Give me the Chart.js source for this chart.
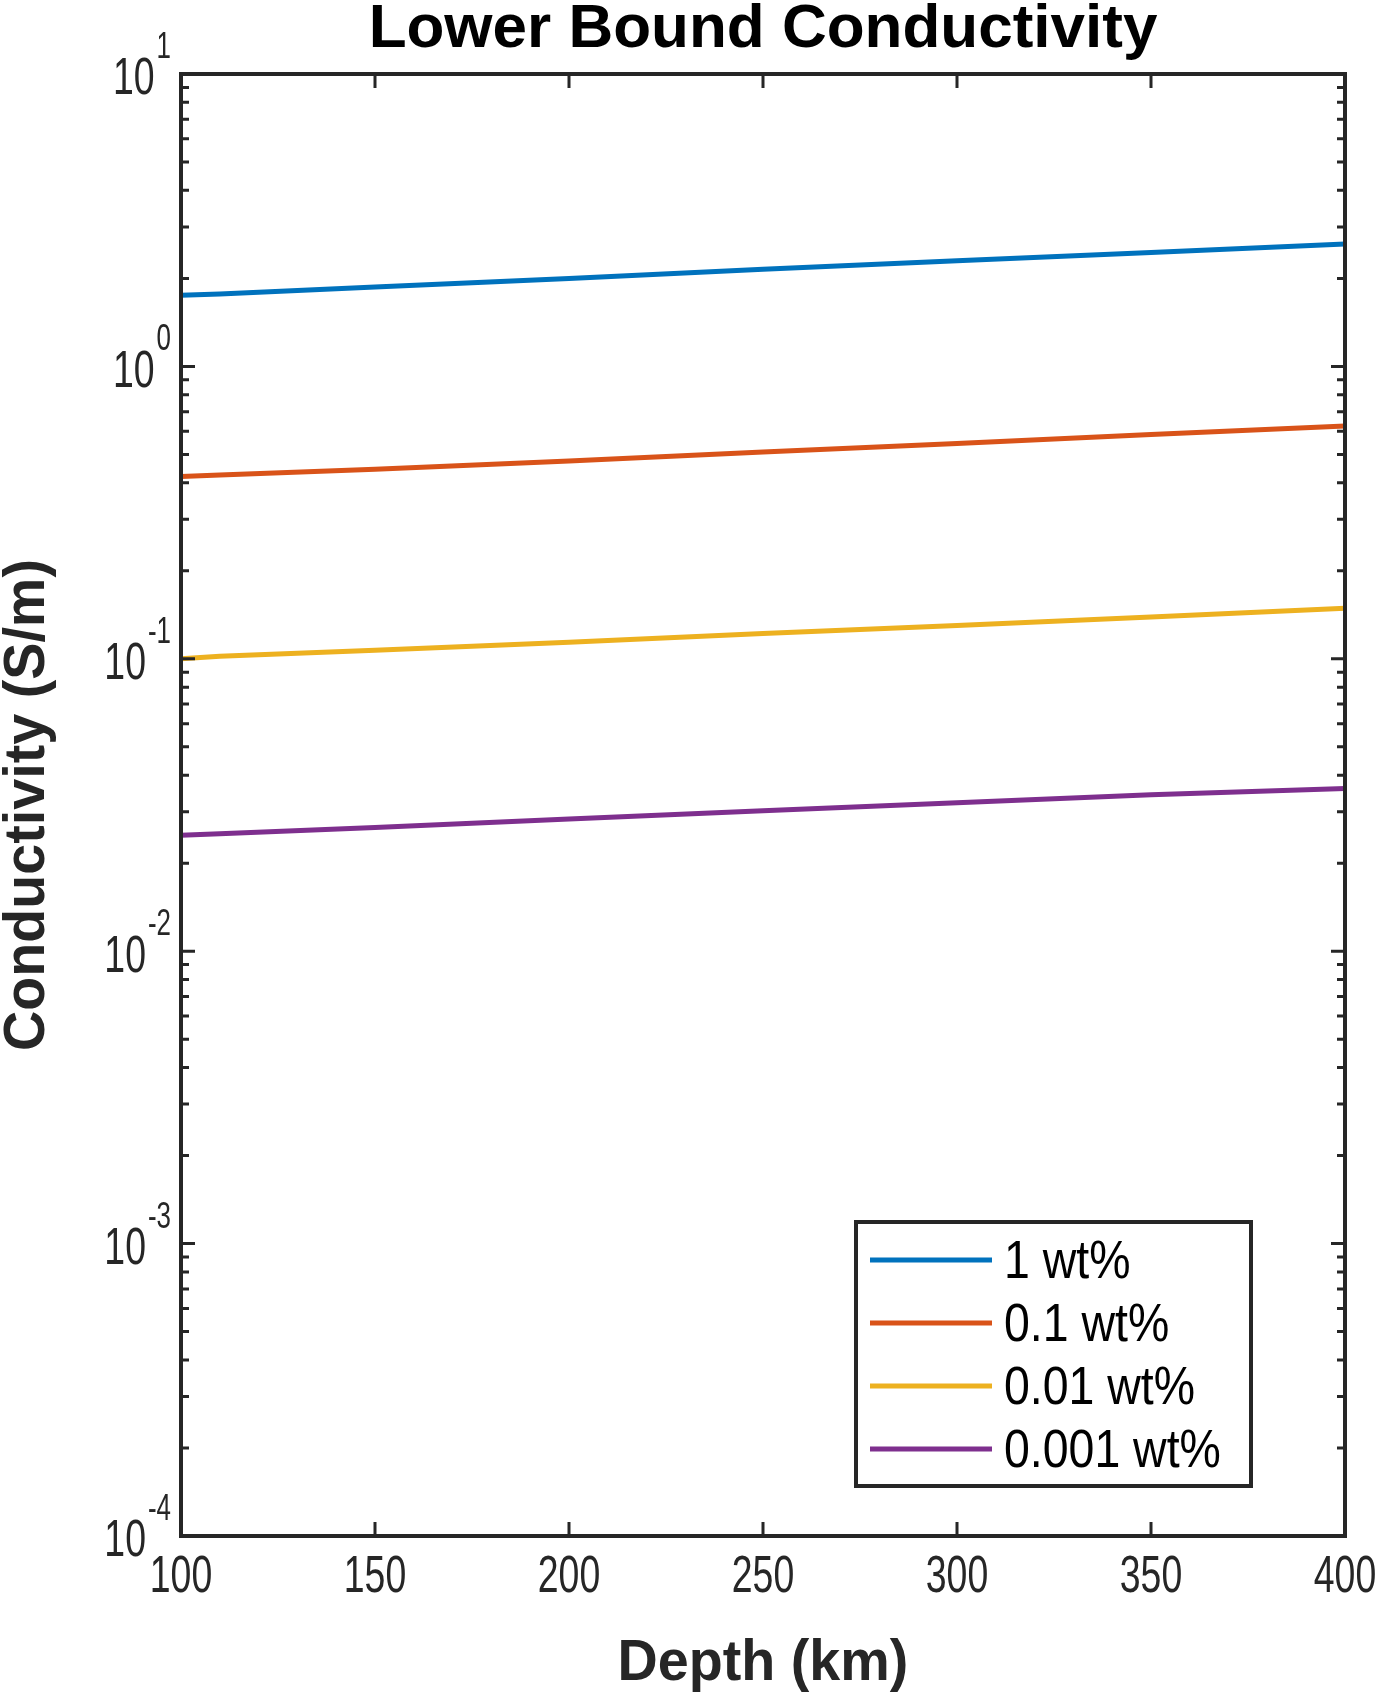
<!DOCTYPE html>
<html>
<head>
<meta charset="utf-8">
<script src="https://cdn.jsdelivr.net/npm/chart.js@4/dist/chart.umd.min.js"></script>
<style>
  body { margin: 0; background: #fff; }
  #wrap { width: 1386px; height: 1696px; }
</style>
</head>
<body>
<div id="wrap"><canvas id="cond"></canvas></div>
<script>
const depths = [100, 110, 150, 200, 250, 300, 350, 400];
const wt1 = [1.75, 1.77, 1.87, 2.0, 2.15, 2.3, 2.45, 2.62];
const wt01 = [0.42, 0.425, 0.445, 0.475, 0.51, 0.545, 0.585, 0.625];
const wt001 = [0.10, 0.102, 0.107, 0.114, 0.122, 0.13, 0.139, 0.149];
const wt0001 = [0.0249, 0.0252, 0.0265, 0.0283, 0.0302, 0.0322, 0.0343, 0.036];
const seriesNames = ['1 wt%', '0.1 wt%', '0.01 wt%', '0.001 wt%'];
const seriesColors = ['#0072BD', '#D95319', '#EDB120', '#7E2F8E'];
const xTicks = [100, 150, 200, 250, 300, 350, 400];
const yExponents = [-4, -3, -2, -1, 0, 1];

const FONT = '"Liberation Sans", Arial, sans-serif';
const INK = '#262626';

function series(vals) {
    return depths.map((d, i) => ({ x: d, y: vals[i] }));
}

// draw text squeezed horizontally by sx
function sText(ctx, text, x, y, sx) {
    ctx.save();
    ctx.translate(x, y);
    ctx.scale(sx, 1);
    ctx.fillText(text, 0, 0);
    ctx.restore();
}

const decor = {
    id: 'decor',
    afterDraw(chart) {
        const ctx = chart.ctx;
        const { left, right, top, bottom } = chart.chartArea;
        const xs = chart.scales.x, ys = chart.scales.y;
        ctx.save();
        ctx.strokeStyle = INK;
        ctx.fillStyle = INK;
        ctx.lineWidth = 4;
        ctx.strokeRect(left, top, right - left, bottom - top);

        // x ticks
        ctx.lineWidth = 3;
        ctx.font = '52px ' + FONT;
        ctx.textAlign = 'center';
        ctx.textBaseline = 'top';
        xTicks.forEach(v => {
            const px = xs.getPixelForValue(v);
            ctx.beginPath();
            ctx.moveTo(px, bottom); ctx.lineTo(px, bottom - 14);
            ctx.moveTo(px, top); ctx.lineTo(px, top + 14);
            ctx.stroke();
            sText(ctx, String(v), px, bottom + 16, 0.72);
        });

        // y ticks (major + minor)
        yExponents.forEach(e => {
            const py = ys.getPixelForValue(Math.pow(10, e));
            ctx.beginPath();
            ctx.moveTo(left, py); ctx.lineTo(left + 14, py);
            ctx.moveTo(right, py); ctx.lineTo(right - 14, py);
            ctx.stroke();
            if (e < 1) {
                for (let m = 2; m <= 9; m++) {
                    const my = ys.getPixelForValue(m * Math.pow(10, e));
                    ctx.beginPath();
                    ctx.moveTo(left, my); ctx.lineTo(left + 8, my);
                    ctx.moveTo(right, my); ctx.lineTo(right - 8, my);
                    ctx.stroke();
                }
            }
            ctx.textAlign = 'right';
            ctx.textBaseline = 'middle';
            ctx.font = '36px ' + FONT;
            const ew = ctx.measureText(String(e)).width * 0.72;
            sText(ctx, String(e), left - 10, py - 26, 0.72);
            ctx.font = '52px ' + FONT;
            sText(ctx, '10', left - 12 - ew, py + 6, 0.72);
        });

        // titles
        ctx.fillStyle = '#000';
        ctx.font = 'bold 62px ' + FONT;
        ctx.textAlign = 'center';
        ctx.textBaseline = 'middle';
        ctx.fillText('Lower Bound Conductivity', (left + right) / 2, 30);
        ctx.fillStyle = INK;
        ctx.font = 'bold 58px ' + FONT;
        sText(ctx, 'Depth (km)', (left + right) / 2, 1664, 0.96);
        ctx.save();
        ctx.translate(28, (top + bottom) / 2);
        ctx.rotate(-Math.PI / 2);
        sText(ctx, 'Conductivity (S/m)', 0, 0, 0.96);
        ctx.restore();

        // legend
        const lx = 856, ly = 1222, lw = 395, lh = 264;
        ctx.fillStyle = '#fff';
        ctx.fillRect(lx, ly, lw, lh);
        ctx.lineWidth = 4;
        ctx.strokeStyle = INK;
        ctx.strokeRect(lx, ly, lw, lh);
        ctx.font = '54px ' + FONT;
        ctx.textAlign = 'left';
        seriesNames.forEach((n, i) => {
            const ry = ly + 38 + i * 63;
            ctx.strokeStyle = seriesColors[i];
            ctx.lineWidth = 5;
            ctx.beginPath();
            ctx.moveTo(lx + 14, ry); ctx.lineTo(lx + 136, ry);
            ctx.stroke();
            ctx.fillStyle = '#000';
            sText(ctx, n, lx + 148, ry + 3, 0.86);
        });
        ctx.restore();
    }
};

new Chart(document.getElementById('cond'), {
    type: 'line',
    data: {
        datasets: [wt1, wt01, wt001, wt0001].map((v, i) => ({
            label: seriesNames[i],
            data: series(v),
            borderColor: seriesColors[i],
            borderWidth: 5,
            pointRadius: 0,
            tension: 0
        }))
    },
    options: {
        responsive: true,
        maintainAspectRatio: false,
        animation: false,
        layout: { padding: { left: 181, right: 41, top: 74, bottom: 160 } },
        plugins: { legend: { display: false }, tooltip: { enabled: false } },
        scales: {
            x: {
                type: 'linear', min: 100, max: 400,
                grid: { display: false }, border: { display: false },
                ticks: { display: false },
                afterFit(s) { s.height = 0; }
            },
            y: {
                type: 'logarithmic', min: 1e-4, max: 10,
                grid: { display: false }, border: { display: false },
                ticks: { display: false },
                afterFit(s) { s.width = 0; }
            }
        }
    },
    plugins: [decor]
});
</script>
</body>
</html>
